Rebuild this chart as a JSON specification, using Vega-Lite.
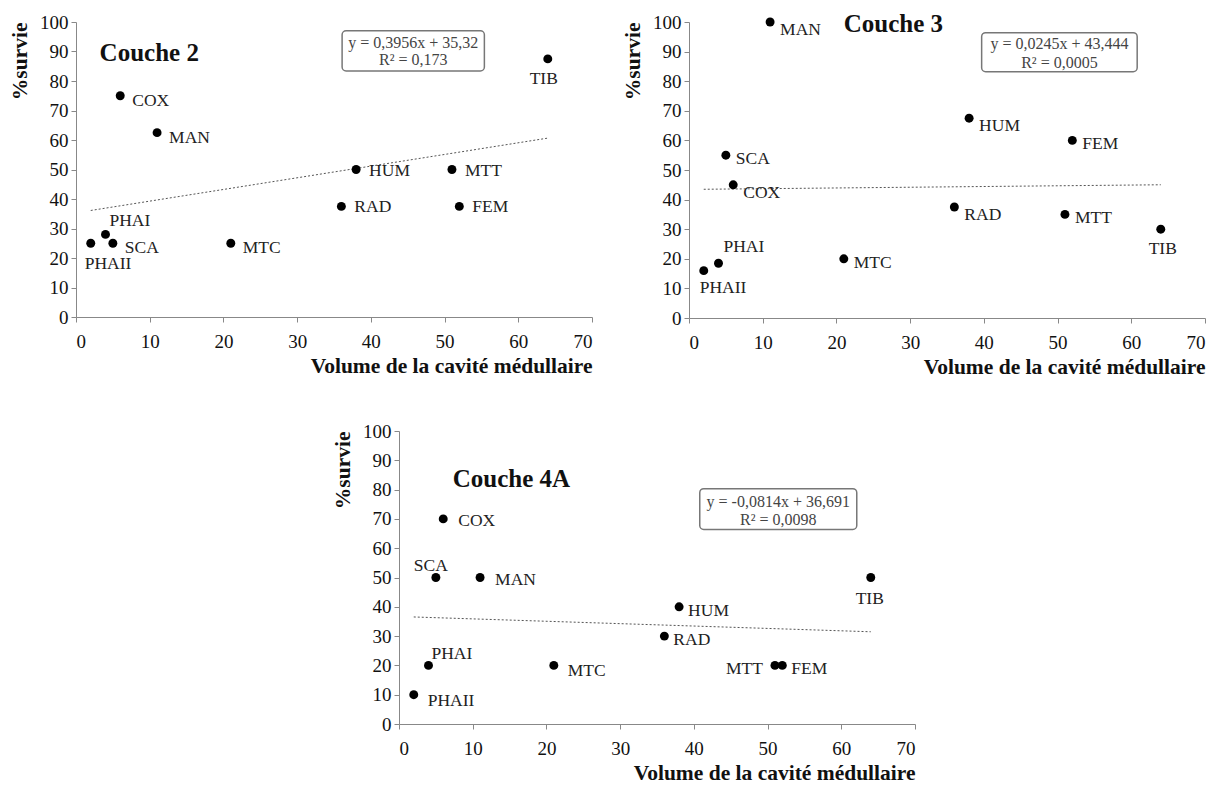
{
  "$schema": "https://vega.github.io/schema/vega-lite/v6.json",
  "background": "white",
  "padding": {"left": 9, "top": 12, "right": 0, "bottom": 0},
  "config": {
    "font": "Liberation Serif",
    "view": {"stroke": null},
    "axis": {
      "grid": false,
      "domainColor": "#888888",
      "tickColor": "#888888",
      "tickSize": 5,
      "labelFont": "Liberation Serif",
      "labelFontSize": 19,
      "labelColor": "#111111",
      "labelPadding": 3,
      "titleFont": "Liberation Serif",
      "titleFontSize": 21.5,
      "titleFontWeight": "bold",
      "titleColor": "#111111"
    },
    "axisX": {"titleAnchor": "end", "titlePadding": 4, "labelPadding": 10, "tickCount": 7},
    "axisY": {"titleAnchor": "end", "titlePadding": 8, "tickCount": 10}
  },
  "datasets": {
    "pts": [
      {"panel": "C2", "bone": "TIB", "vol": 64, "surv": 87.5},
      {"panel": "C2", "bone": "COX", "vol": 6, "surv": 75},
      {"panel": "C2", "bone": "MAN", "vol": 11, "surv": 62.5},
      {"panel": "C2", "bone": "HUM", "vol": 38, "surv": 50},
      {"panel": "C2", "bone": "MTT", "vol": 51, "surv": 50},
      {"panel": "C2", "bone": "RAD", "vol": 36, "surv": 37.5},
      {"panel": "C2", "bone": "FEM", "vol": 52, "surv": 37.5},
      {"panel": "C2", "bone": "PHAI", "vol": 4, "surv": 28},
      {"panel": "C2", "bone": "PHAII", "vol": 2, "surv": 25},
      {"panel": "C2", "bone": "SCA", "vol": 5, "surv": 25},
      {"panel": "C2", "bone": "MTC", "vol": 21, "surv": 25},
      {"panel": "C3", "bone": "MAN", "vol": 11, "surv": 100},
      {"panel": "C3", "bone": "HUM", "vol": 38, "surv": 67.5},
      {"panel": "C3", "bone": "FEM", "vol": 52, "surv": 60},
      {"panel": "C3", "bone": "SCA", "vol": 5, "surv": 55},
      {"panel": "C3", "bone": "COX", "vol": 6, "surv": 45},
      {"panel": "C3", "bone": "RAD", "vol": 36, "surv": 37.5},
      {"panel": "C3", "bone": "MTT", "vol": 51, "surv": 35},
      {"panel": "C3", "bone": "TIB", "vol": 64, "surv": 30},
      {"panel": "C3", "bone": "MTC", "vol": 21, "surv": 20},
      {"panel": "C3", "bone": "PHAI", "vol": 4, "surv": 18.5},
      {"panel": "C3", "bone": "PHAII", "vol": 2, "surv": 16},
      {"panel": "C4A", "bone": "COX", "vol": 6, "surv": 70},
      {"panel": "C4A", "bone": "SCA", "vol": 5, "surv": 50},
      {"panel": "C4A", "bone": "MAN", "vol": 11, "surv": 50},
      {"panel": "C4A", "bone": "TIB", "vol": 64, "surv": 50},
      {"panel": "C4A", "bone": "HUM", "vol": 38, "surv": 40},
      {"panel": "C4A", "bone": "RAD", "vol": 36, "surv": 30},
      {"panel": "C4A", "bone": "PHAI", "vol": 4, "surv": 20},
      {"panel": "C4A", "bone": "MTC", "vol": 21, "surv": 20},
      {"panel": "C4A", "bone": "MTT", "vol": 51, "surv": 20},
      {"panel": "C4A", "bone": "FEM", "vol": 52, "surv": 20},
      {"panel": "C4A", "bone": "PHAII", "vol": 2, "surv": 10}
    ],
    "trend": [
      {"panel": "C2", "vol": 2, "surv": 36.11},
      {"panel": "C2", "vol": 64, "surv": 60.64},
      {"panel": "C3", "vol": 2, "surv": 43.49},
      {"panel": "C3", "vol": 64, "surv": 45.01},
      {"panel": "C4A", "vol": 2, "surv": 36.53},
      {"panel": "C4A", "vol": 64, "surv": 31.48}
    ],
    "one": [{"k": 1}]
  },
  "spacing": 44,
  "vconcat": [
    {
      "spacing": 29,
      "hconcat": [
        {
          "width": 516, "height": 295,
          "layer": [
            {
              "encoding": {
                "x": {"field": "vol", "type": "quantitative", "title": "Volume de la cavité médullaire", "scale": {"domain": [0, 70], "nice": false}},
                "y": {"field": "surv", "type": "quantitative", "title": "%survie", "scale": {"domain": [0, 100], "nice": false}}
              },
              "layer": [
                {"data": {"name": "trend"}, "transform": [{"filter": {"field": "panel", "equal": "C2"}}],
                 "mark": {"type": "line", "color": "#555555", "strokeWidth": 1, "strokeDash": [2, 2]}},
                {"data": {"name": "pts"}, "transform": [{"filter": {"field": "panel", "equal": "C2"}}],
                 "mark": {"type": "circle", "size": 80, "color": "#000000", "opacity": 1}},
                {"data": {"name": "pts"}, "transform": [{"filter": {"field": "panel", "equal": "C2"}}, {"filter": {"field": "bone", "oneOf": ["COX", "MAN", "SCA", "MTC"]}}],
                 "mark": {"type": "text", "align": "left", "baseline": "middle", "dx": 12, "dy": 5, "fontSize": 17.5, "color": "#222222"},
                 "encoding": {"text": {"field": "bone"}}},
                {"data": {"name": "pts"}, "transform": [{"filter": {"field": "panel", "equal": "C2"}}, {"filter": {"field": "bone", "oneOf": ["HUM", "MTT", "RAD", "FEM"]}}],
                 "mark": {"type": "text", "align": "left", "baseline": "middle", "dx": 13, "dy": 1, "fontSize": 17.5, "color": "#222222"},
                 "encoding": {"text": {"field": "bone"}}},
                {"data": {"name": "pts"}, "transform": [{"filter": {"field": "panel", "equal": "C2"}}, {"filter": {"field": "bone", "equal": "TIB"}}],
                 "mark": {"type": "text", "align": "center", "baseline": "middle", "dx": -4, "dy": 20, "fontSize": 17.5, "color": "#222222"},
                 "encoding": {"text": {"field": "bone"}}},
                {"data": {"name": "pts"}, "transform": [{"filter": {"field": "panel", "equal": "C2"}}, {"filter": {"field": "bone", "equal": "PHAII"}}],
                 "mark": {"type": "text", "align": "left", "baseline": "middle", "dx": -6, "dy": 21, "fontSize": 17.5, "color": "#222222"},
                 "encoding": {"text": {"field": "bone"}}},
                {"data": {"name": "pts"}, "transform": [{"filter": {"field": "panel", "equal": "C2"}}, {"filter": {"field": "bone", "equal": "PHAI"}}],
                 "mark": {"type": "text", "align": "left", "baseline": "middle", "dx": 4, "dy": -13, "fontSize": 17.5, "color": "#222222"},
                 "encoding": {"text": {"field": "bone"}}}
              ]
            },
            {"data": {"name": "one"},
             "mark": {"type": "rect", "fill": "white", "stroke": "#777777", "strokeWidth": 1.5, "cornerRadius": 4},
             "encoding": {"x": {"datum": 36.1, "type": "quantitative", "title": "Volume de la cavité médullaire"}, "x2": {"datum": 55.4}, "y": {"datum": 97, "type": "quantitative", "title": "%survie"}, "y2": {"datum": 83.4}}},
            {"data": {"name": "one"},
             "mark": {"type": "text", "align": "center", "baseline": "middle", "fontSize": 16, "color": "#444444"},
             "encoding": {"x": {"datum": 45.75, "type": "quantitative", "title": "Volume de la cavité médullaire"}, "y": {"datum": 93, "type": "quantitative", "title": "%survie"}, "text": {"value": "y = 0,3956x + 35,32"}}},
            {"data": {"name": "one"},
             "mark": {"type": "text", "align": "center", "baseline": "middle", "fontSize": 16, "color": "#444444"},
             "encoding": {"x": {"datum": 45.75, "type": "quantitative", "title": "Volume de la cavité médullaire"}, "y": {"datum": 87.2, "type": "quantitative", "title": "%survie"}, "text": {"value": "R² = 0,173"}}},
            {"data": {"name": "one"},
             "mark": {"type": "text", "align": "left", "baseline": "middle", "fontSize": 25, "fontWeight": "bold", "color": "#111111"},
             "encoding": {"x": {"datum": 3.2, "type": "quantitative", "title": "Volume de la cavité médullaire"}, "y": {"datum": 89.5, "type": "quantitative", "title": "%survie"}, "text": {"value": "Couche 2"}}}
          ]
        },
        {
          "width": 516, "height": 296,
          "layer": [
            {
              "encoding": {
                "x": {"field": "vol", "type": "quantitative", "title": "Volume de la cavité médullaire", "scale": {"domain": [0, 70], "nice": false}},
                "y": {"field": "surv", "type": "quantitative", "title": "%survie", "scale": {"domain": [0, 100], "nice": false}}
              },
              "layer": [
                {"data": {"name": "trend"}, "transform": [{"filter": {"field": "panel", "equal": "C3"}}],
                 "mark": {"type": "line", "color": "#555555", "strokeWidth": 1, "strokeDash": [2, 2]}},
                {"data": {"name": "pts"}, "transform": [{"filter": {"field": "panel", "equal": "C3"}}],
                 "mark": {"type": "circle", "size": 80, "color": "#000000", "opacity": 1}},
                {"data": {"name": "pts"}, "transform": [{"filter": {"field": "panel", "equal": "C3"}}, {"filter": {"field": "bone", "oneOf": ["MAN", "HUM", "COX", "RAD"]}}],
                 "mark": {"type": "text", "align": "left", "baseline": "middle", "dx": 10, "dy": 8, "fontSize": 17.5, "color": "#222222"},
                 "encoding": {"text": {"field": "bone"}}},
                {"data": {"name": "pts"}, "transform": [{"filter": {"field": "panel", "equal": "C3"}}, {"filter": {"field": "bone", "oneOf": ["FEM", "SCA", "MTT", "MTC"]}}],
                 "mark": {"type": "text", "align": "left", "baseline": "middle", "dx": 10, "dy": 4, "fontSize": 17.5, "color": "#222222"},
                 "encoding": {"text": {"field": "bone"}}},
                {"data": {"name": "pts"}, "transform": [{"filter": {"field": "panel", "equal": "C3"}}, {"filter": {"field": "bone", "equal": "TIB"}}],
                 "mark": {"type": "text", "align": "center", "baseline": "middle", "dx": 2, "dy": 20, "fontSize": 17.5, "color": "#222222"},
                 "encoding": {"text": {"field": "bone"}}},
                {"data": {"name": "pts"}, "transform": [{"filter": {"field": "panel", "equal": "C3"}}, {"filter": {"field": "bone", "equal": "PHAII"}}],
                 "mark": {"type": "text", "align": "left", "baseline": "middle", "dx": -4, "dy": 17, "fontSize": 17.5, "color": "#222222"},
                 "encoding": {"text": {"field": "bone"}}},
                {"data": {"name": "pts"}, "transform": [{"filter": {"field": "panel", "equal": "C3"}}, {"filter": {"field": "bone", "equal": "PHAI"}}],
                 "mark": {"type": "text", "align": "left", "baseline": "middle", "dx": 5, "dy": -16, "fontSize": 17.5, "color": "#222222"},
                 "encoding": {"text": {"field": "bone"}}}
              ]
            },
            {"data": {"name": "one"},
             "mark": {"type": "rect", "fill": "white", "stroke": "#777777", "strokeWidth": 1.5, "cornerRadius": 4},
             "encoding": {"x": {"datum": 39.7, "type": "quantitative", "title": "Volume de la cavité médullaire"}, "x2": {"datum": 60.8}, "y": {"datum": 96.4, "type": "quantitative", "title": "%survie"}, "y2": {"datum": 83.2}}},
            {"data": {"name": "one"},
             "mark": {"type": "text", "align": "center", "baseline": "middle", "fontSize": 16, "color": "#444444"},
             "encoding": {"x": {"datum": 50.25, "type": "quantitative", "title": "Volume de la cavité médullaire"}, "y": {"datum": 92.4, "type": "quantitative", "title": "%survie"}, "text": {"value": "y = 0,0245x + 43,444"}}},
            {"data": {"name": "one"},
             "mark": {"type": "text", "align": "center", "baseline": "middle", "fontSize": 16, "color": "#444444"},
             "encoding": {"x": {"datum": 50.25, "type": "quantitative", "title": "Volume de la cavité médullaire"}, "y": {"datum": 86.2, "type": "quantitative", "title": "%survie"}, "text": {"value": "R² = 0,0005"}}},
            {"data": {"name": "one"},
             "mark": {"type": "text", "align": "left", "baseline": "middle", "fontSize": 25, "fontWeight": "bold", "color": "#111111"},
             "encoding": {"x": {"datum": 21, "type": "quantitative", "title": "Volume de la cavité médullaire"}, "y": {"datum": 99.3, "type": "quantitative", "title": "%survie"}, "text": {"value": "Couche 3"}}}
          ]
        }
      ]
    },
    {
      "spacing": 0,
      "hconcat": [
        {"width": 256, "height": 1, "data": {"values": []}, "mark": "point", "encoding": {}},
        {
          "width": 516, "height": 293,
          "layer": [
            {
              "encoding": {
                "x": {"field": "vol", "type": "quantitative", "title": "Volume de la cavité médullaire", "scale": {"domain": [0, 70], "nice": false}},
                "y": {"field": "surv", "type": "quantitative", "title": "%survie", "scale": {"domain": [0, 100], "nice": false}}
              },
              "layer": [
                {"data": {"name": "trend"}, "transform": [{"filter": {"field": "panel", "equal": "C4A"}}],
                 "mark": {"type": "line", "color": "#555555", "strokeWidth": 1, "strokeDash": [2, 2]}},
                {"data": {"name": "pts"}, "transform": [{"filter": {"field": "panel", "equal": "C4A"}}],
                 "mark": {"type": "circle", "size": 80, "color": "#000000", "opacity": 1}},
                {"data": {"name": "pts"}, "transform": [{"filter": {"field": "panel", "equal": "C4A"}}, {"filter": {"field": "bone", "oneOf": ["COX", "MAN"]}}],
                 "mark": {"type": "text", "align": "left", "baseline": "middle", "dx": 15, "dy": 2, "fontSize": 17.5, "color": "#222222"},
                 "encoding": {"text": {"field": "bone"}}},
                {"data": {"name": "pts"}, "transform": [{"filter": {"field": "panel", "equal": "C4A"}}, {"filter": {"field": "bone", "oneOf": ["HUM", "RAD", "FEM"]}}],
                 "mark": {"type": "text", "align": "left", "baseline": "middle", "dx": 9, "dy": 4, "fontSize": 17.5, "color": "#222222"},
                 "encoding": {"text": {"field": "bone"}}},
                {"data": {"name": "pts"}, "transform": [{"filter": {"field": "panel", "equal": "C4A"}}, {"filter": {"field": "bone", "oneOf": ["MTC", "PHAII"]}}],
                 "mark": {"type": "text", "align": "left", "baseline": "middle", "dx": 14, "dy": 6, "fontSize": 17.5, "color": "#222222"},
                 "encoding": {"text": {"field": "bone"}}},
                {"data": {"name": "pts"}, "transform": [{"filter": {"field": "panel", "equal": "C4A"}}, {"filter": {"field": "bone", "equal": "TIB"}}],
                 "mark": {"type": "text", "align": "center", "baseline": "middle", "dx": -1, "dy": 21, "fontSize": 17.5, "color": "#222222"},
                 "encoding": {"text": {"field": "bone"}}},
                {"data": {"name": "pts"}, "transform": [{"filter": {"field": "panel", "equal": "C4A"}}, {"filter": {"field": "bone", "equal": "MTT"}}],
                 "mark": {"type": "text", "align": "right", "baseline": "middle", "dx": -12, "dy": 4, "fontSize": 17.5, "color": "#222222"},
                 "encoding": {"text": {"field": "bone"}}},
                {"data": {"name": "pts"}, "transform": [{"filter": {"field": "panel", "equal": "C4A"}}, {"filter": {"field": "bone", "equal": "SCA"}}],
                 "mark": {"type": "text", "align": "center", "baseline": "middle", "dx": -5, "dy": -12, "fontSize": 17.5, "color": "#222222"},
                 "encoding": {"text": {"field": "bone"}}},
                {"data": {"name": "pts"}, "transform": [{"filter": {"field": "panel", "equal": "C4A"}}, {"filter": {"field": "bone", "equal": "PHAI"}}],
                 "mark": {"type": "text", "align": "left", "baseline": "middle", "dx": 3, "dy": -11, "fontSize": 17.5, "color": "#222222"},
                 "encoding": {"text": {"field": "bone"}}}
              ]
            },
            {"data": {"name": "one"},
             "mark": {"type": "rect", "fill": "white", "stroke": "#777777", "strokeWidth": 1.5, "cornerRadius": 4},
             "encoding": {"x": {"datum": 40.8, "type": "quantitative", "title": "Volume de la cavité médullaire"}, "x2": {"datum": 62.1}, "y": {"datum": 80.3, "type": "quantitative", "title": "%survie"}, "y2": {"datum": 66.4}}},
            {"data": {"name": "one"},
             "mark": {"type": "text", "align": "center", "baseline": "middle", "fontSize": 16, "color": "#444444"},
             "encoding": {"x": {"datum": 51.45, "type": "quantitative", "title": "Volume de la cavité médullaire"}, "y": {"datum": 75.9, "type": "quantitative", "title": "%survie"}, "text": {"value": "y = -0,0814x + 36,691"}}},
            {"data": {"name": "one"},
             "mark": {"type": "text", "align": "center", "baseline": "middle", "fontSize": 16, "color": "#444444"},
             "encoding": {"x": {"datum": 51.45, "type": "quantitative", "title": "Volume de la cavité médullaire"}, "y": {"datum": 69.6, "type": "quantitative", "title": "%survie"}, "text": {"value": "R² = 0,0098"}}},
            {"data": {"name": "one"},
             "mark": {"type": "text", "align": "left", "baseline": "middle", "fontSize": 25, "fontWeight": "bold", "color": "#111111"},
             "encoding": {"x": {"datum": 7.3, "type": "quantitative", "title": "Volume de la cavité médullaire"}, "y": {"datum": 83.7, "type": "quantitative", "title": "%survie"}, "text": {"value": "Couche 4A"}}}
          ]
        }
      ]
    }
  ]
}
